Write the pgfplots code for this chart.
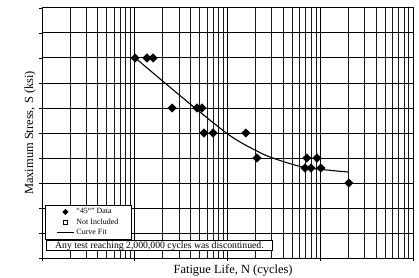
\documentclass[border=0pt]{standalone}
\usepackage{pgfplots}
\pgfplotsset{compat=1.18}
\usepackage{fontspec}
\setmainfont{Liberation Serif}
\begin{document}
\begin{tikzpicture}
\useasboundingbox (0,0) rectangle (419bp,278bp);
\begin{axis}[
  at={(42bp,20bp)}, anchor=south west,
  scale only axis, width=371bp, height=250bp,
  xmode=log, xmin=1e3, xmax=1e7,
  ymin=0, ymax=10, ytick={0,1,...,10},
  xticklabels={}, yticklabels={},
  grid=both,
  major grid style={black, line width=1pt},
  minor grid style={black!90, line width=0.85pt},
  axis line style={black, line width=1pt},
  tick pos=left,
  tick align=outside, major tick length=3bp, minor tick length=0pt,
  tick style={black, line width=0.9pt},
  xlabel={Fatigue Life, N (cycles)},
  ylabel={Maximum Stress, S (ksi)},
  label style={font=\fontsize{12.5}{14}\selectfont},
  xlabel style={at={(axis description cs:0.515,-0.048)}, anchor=center},
  ylabel style={at={(axis description cs:-0.032,0.5)}, anchor=center},
  legend style={at={(axis description cs:0.008,0.072)}, anchor=south west,
    font=\fontsize{8}{9}\selectfont, draw=black, line width=0.8pt,
    row sep=-0.5pt, inner xsep=11bp, inner ysep=1.5pt, cells={anchor=west}},
  legend cell align=left,
]
\addlegendimage{only marks, mark=square*, mark size=1.8bp, mark options={rotate=45, fill=black, draw=black}}
\addlegendentry{“45°” Data}
\addlegendimage{only marks, mark=square, mark size=2bp, mark options={draw=black, line width=0.9pt}}
\addlegendentry{Not Included}
\addlegendimage{black, line width=1.1pt}
\addlegendentry{Curve Fit}
\addplot[forget plot, only marks, mark=square*, mark size=3bp, mark options={rotate=45, fill=black, draw=black}]
 coordinates {
 (10070,8) (13550,8) (15740,8)
 (25230,6) (46900,6) (53100,6)
 (55800,5) (69800,5) (158000,5)
 (208000,4) (719000,4) (922000,4)
 (685000,3.6) (795000,3.6) (1018000,3.6)
 (2040000,3)
 };
\addplot[forget plot, black, line width=1.1pt, smooth, tension=0.5] coordinates {
 (10230,7.99) (21180,7.0) (44670,6.0) (93970,5.04) (136500,4.64)
 (197700,4.32) (287100,4.04) (651600,3.64) (1991000,3.44)
 };
\node[draw=black, line width=0.8pt, fill=white, anchor=south west,
  font=\fontsize{9.75}{10}\selectfont, inner xsep=3pt, inner ysep=0.5pt,
  minimum width=226bp, align=center]
  at (axis description cs:0.011,0.028) {Any test reaching 2,000,000 cycles was discontinued.};
\end{axis}
\end{tikzpicture}
\end{document}
